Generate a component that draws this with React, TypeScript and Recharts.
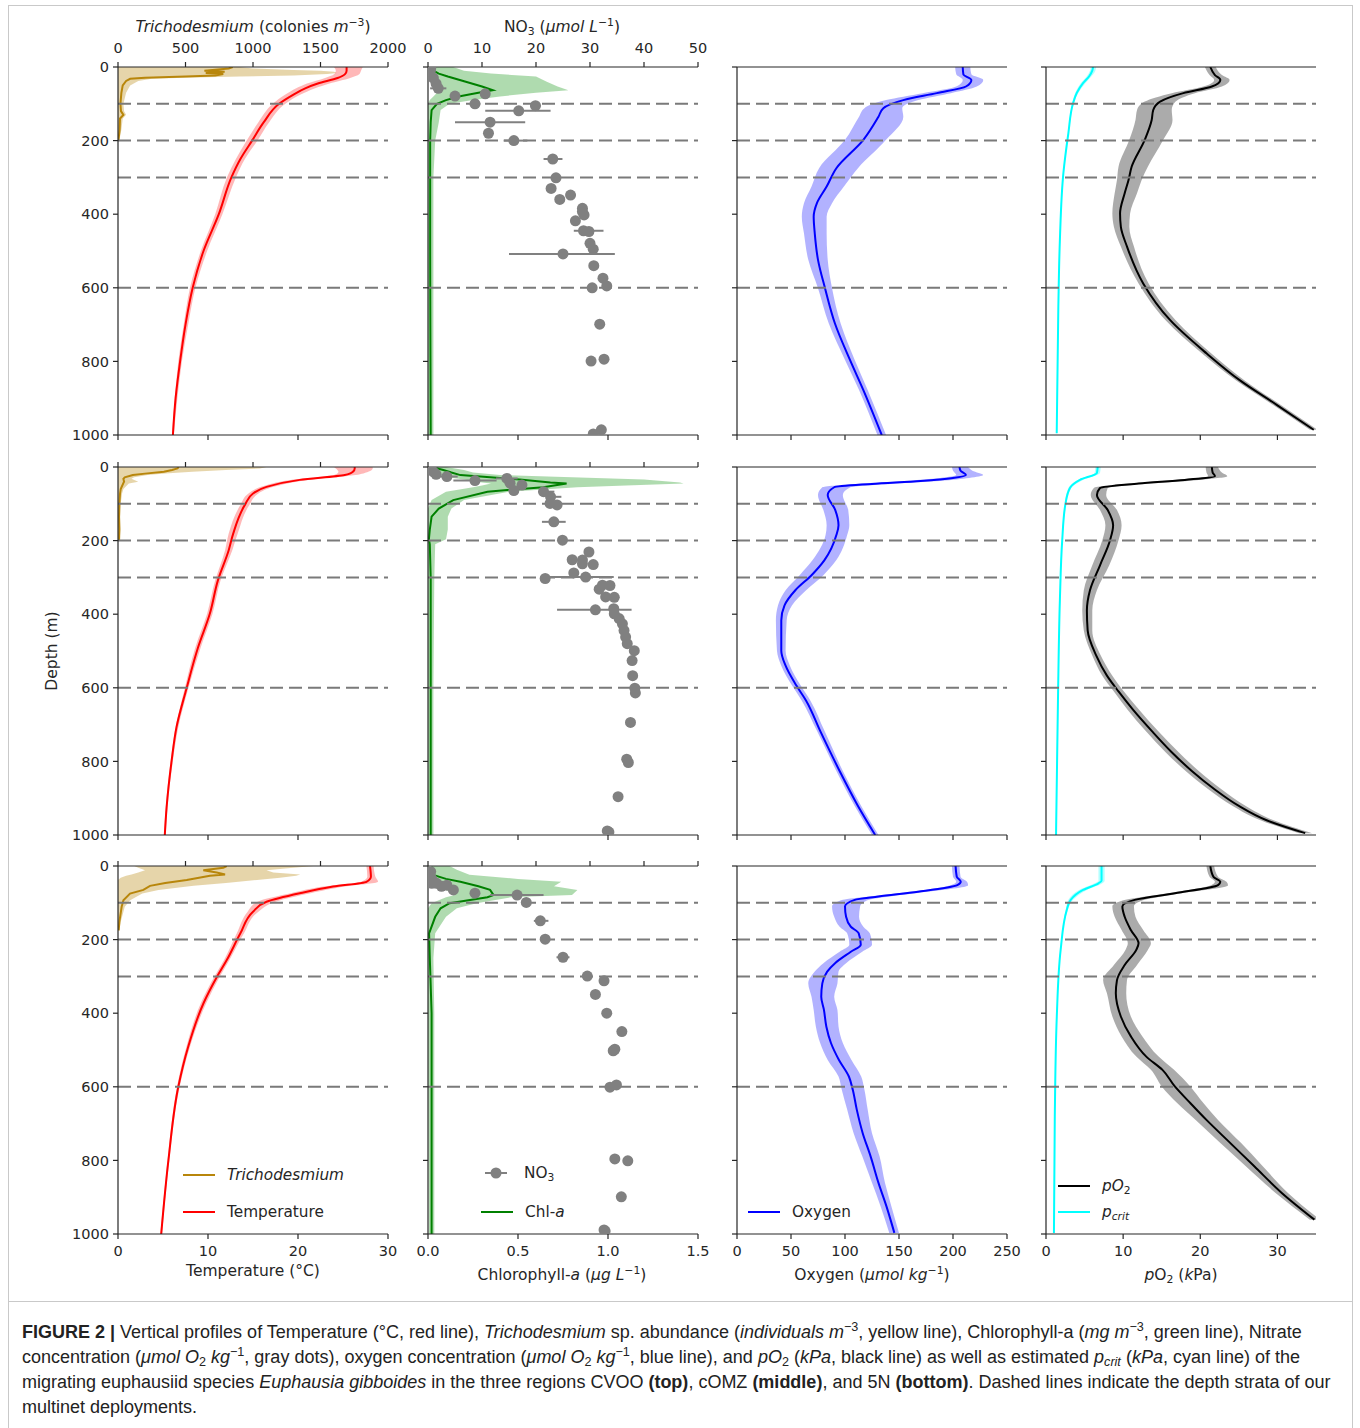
import React from 'react';
import { ComposedChart, Line, Area, Scatter, ErrorBar, XAxis, YAxis, ReferenceLine } from 'recharts';

type Row = [number, number, number, number];

// ---------- tick labels / categories ----------
const DEPTH_TICKS = [0, 200, 400, 600, 800, 1000];
const STRATA = [100, 200, 300, 600];
const TEMP_TICKS = [0, 10, 20, 30];
const TRICHO_TICKS = [0, 500, 1000, 1500, 2000];
const CHL_TICKS = [0, 0.5, 1.0, 1.5];
const NO3_TICKS = [0, 10, 20, 30, 40, 50];
const OXY_TICKS = [0, 50, 100, 150, 200, 250];
const PO2_TICKS = [0, 10, 20, 30];

// ---------- CVOO (top) : [depth, mean, low, high] ----------
const CVOO_TEMP: Row[] = [[0,25.4,24.0,27.2],[10,25.4,24.2,27.0],[20,25.2,24.0,26.8],[30,24.4,23.0,25.8],[45,22.2,21.0,23.5],[58,20.8,19.8,21.9],[75,19.5,18.6,20.3],[100,17.9,17.2,18.6],[150,16.2,15.6,16.8],[200,14.9,14.3,15.5],[250,13.6,13.1,14.1],[300,12.6,12.1,13.1],[400,11.2,10.8,11.6],[500,9.5,9.2,9.9],[600,8.3,8.0,8.6],[700,7.5,7.3,7.8],[800,6.9,6.7,7.1],[900,6.4,6.3,6.6],[1000,6.1,6.0,6.2]];
const CVOO_TRICHO: Row[] = [[0,850,0,900],[4,820,0,1000],[8,700,0,1300],[10,640,0,1500],[13,790,0,1600],[16,650,0,1620],[19,780,0,1550],[23,720,0,1300],[26,500,0,900],[29,200,0,500],[32,90,0,250],[38,60,0,150],[50,35,0,90],[70,25,0,60],[100,18,0,40],[120,22,0,45],[130,40,0,60],[140,15,0,35],[170,12,0,25],[200,3,0,10]];
const CVOO_CHL: Row[] = [[0,0.02,0,0.14],[10,0.03,0,0.2],[18,0.06,0,0.35],[26,0.11,0,0.6],[40,0.21,0.02,0.66],[53,0.30,0.05,0.72],[63,0.36,0.08,0.78],[70,0.28,0.05,0.6],[80,0.17,0.03,0.4],[90,0.10,0.01,0.25],[100,0.05,0,0.12],[117,0.02,0,0.07],[150,0.015,0,0.06],[200,0.012,0,0.04],[300,0.012,0,0.03],[500,0.012,0,0.03],[700,0.013,0,0.03],[1000,0.015,0,0.03]];
const CVOO_NO3: Row[] = [[5,0.5,0,0],[13,0.4,0,0],[30,1.0,0,0],[45,1.5,0,0],[58,1.9,1.5,1.5],[73,10.6,0,0],[79,5.0,0,0],[100,8.7,1,1],[105,19.9,1,1],[119,16.8,6.2,5.9],[150,11.5,6.5,6.5],[180,11.2,0,0],[200,15.9,1.9,2.5],[250,23.1,1.7,1.8],[301,23.7,0,0],[330,22.8,0,0],[348,26.4,0,0],[360,24.4,0,0],[384,28.6,0,0],[393,28.6,0,0],[402,28.9,0,0],[418,27.3,0,0],[445,28.8,1.8,3.7],[447,29.8,0,0],[479,30.0,0,0],[495,30.6,0,0],[508,25.0,10,9.6],[540,30.7,0,0],[574,32.4,0,0],[595,33.1,0,0],[600,30.4,0,0],[699,31.8,0,0],[794,32.6,0,0],[799,30.2,0,0],[986,32.1,0,0],[997,30.6,0,0]];
const CVOO_OXY: Row[] = [[0,209,202,216],[20,209.6,203,217],[35,217,209,228],[53,212,203,222],[71,185,172,198],[90,154,138,168],[112,135.5,118,153],[135,131,113,154],[198,117,100,138],[275,92,76,112],[325,83,69,99],[370,74,62,88],[407,71,60,83],[452,72,62,83],[524,75,66,84],[601,81.5,75,88],[697,90.7,85,96],[796,104.6,100,109],[878,117,113,121],[1000,134,130,138]];
const CVOO_PO2: Row[] = [[0,21.3,20.6,22],[22,21.9,21.2,22.8],[35,22.6,21.8,23.8],[53,21.5,20.4,22.8],[71,17.8,16.3,19.3],[94,14.8,12.8,16.8],[117,13.9,11.8,16.3],[144,13.7,11.6,16.4],[198,12.8,10.8,15.2],[271,11.1,9.4,13.2],[307,10.7,9.2,12.4],[343,10.2,8.9,11.8],[398,9.6,8.6,10.9],[434,9.7,8.8,10.8],[488,10.5,9.7,11.4],[588,12.6,12,13.3],[688,16.1,15.5,16.8],[778,20.8,20.2,21.4],[851,25.1,24.6,25.7],[918,29.9,29.4,30.4],[986,34.7,34.2,35.2]];
const CVOO_PCRIT: Row[] = [[0,6.1,5.8,6.5],[10,6.0,5.7,6.4],[25,5.6,5.3,5.9],[44,4.8,4.5,5.1],[70,4.0,3.8,4.2],[99,3.5,3.4,3.6],[180,2.9,2.85,2.95],[289,2.25,2.2,2.3],[470,1.8,1.75,1.85],[651,1.6,1.55,1.65],[995,1.39,1.35,1.43]];

// ---------- cOMZ (middle) ----------
const COMZ_TEMP: Row[] = [[0,26.3,24,28.3],[4,26.3,24.2,28.3],[13,26.1,24.5,27.8],[22,25.2,24,26.4],[35,20.2,19.2,21.2],[54,16.5,15.9,17.3],[72,15,14.5,15.6],[103,14.1,13.6,14.6],[181,12.8,12.3,13.3],[226,12.3,11.9,12.7],[308,11.1,10.8,11.4],[399,10.2,9.9,10.5],[490,8.9,8.6,9.2],[603,7.6,7.4,7.8],[707,6.5,6.4,6.7],[798,5.96,5.85,6.1],[925,5.4,5.3,5.5],[1000,5.2,5.1,5.3]];
const COMZ_TRICHO: Row[] = [[0,450,0,1100],[4,440,0,1050],[8,400,0,800],[13,340,0,550],[18,200,0,350],[22,110,0,220],[28,50,0,120],[32,40,0,100],[40,45,0,150],[45,38,0,80],[60,20,0,40],[72,15,0,30],[100,10,0,20],[136,8,0,15],[170,10,0,18],[200,8,0,12]];
const COMZ_CHL: Row[] = [[0,0.02,0,0.1],[8,0.085,0,0.2],[15,0.13,0,0.25],[22,0.18,0.02,0.4],[34,0.51,0.2,1.2],[42,0.68,0.3,1.4],[45,0.77,0.35,1.42],[50,0.7,0.3,1.1],[55,0.64,0.25,0.83],[67,0.33,0.1,0.45],[90,0.14,0.02,0.2],[113,0.06,0,0.13],[135,0.02,0,0.11],[170,0.01,0,0.11],[196,0.005,0,0.1],[210,0.01,0,0.04],[300,0.015,0,0.035],[600,0.015,0,0.03],[1000,0.015,0,0.03]];
const COMZ_NO3: Row[] = [[5,0.5,0,0],[13,1.0,0,0],[20,1.5,0,0],[26,3.5,2,2],[31,14.6,2,2],[37,8.7,4,4],[44,15.2,0,0],[49,17.4,0,0],[64,15.9,0,0],[67,21.4,1,2],[81,22.7,0,2],[99,22.6,0,0],[103,23.9,0,0],[149,23.3,2.2,2.2],[199,24.9,0,0],[231,29.8,0,0],[252,26.7,0,0],[253,28.6,0,0],[263,28.6,0,0],[265,30.6,0,0],[288,27.0,0,0],[299,29.2,7.8,5.2],[303,21.7,0,0],[321,32.3,0,0],[322,33.7,0,0],[332,31.7,0,0],[353,32.9,0,0],[354,34.5,0,0],[385,34.4,0,0],[388,31.0,7.1,6.7],[399,34.5,0,0],[412,35.4,0,0],[426,36.0,0,0],[444,36.3,0,0],[462,36.6,0,0],[480,36.9,0,0],[499,38.2,0,0],[526,37.8,0,0],[567,37.9,0,0],[601,38.3,0,0],[614,38.4,0,0],[694,37.5,0,0],[794,36.8,0,0],[803,37.1,0,0],[896,35.2,0,0],[989,33.2,0,0],[992,33.5,0,0]];
const COMZ_OXY: Row[] = [[0,206,199,214],[10,207,200,218],[22,212,203,228],[30,200,188,215],[38,170,155,188],[46,125,110,142],[55,90,79,105],[76,84,75,98],[117,91,80,103],[158,94,83,104],[185,92,82,102],[253,81,70,92],[294,69,58,80],[335,54,45,64],[376,44,38,51],[417,41,36,46],[499,41,37,45],[540,45,41,49],[594,55,51,59],[635,64,60,68],[717,77,74,81],[826,95,92,98],[921,112,109,115],[1000,128,125,131]];
const COMZ_PO2: Row[] = [[0,21.5,20.7,22.3],[15,21.6,20.8,22.8],[25,21.9,21,23.5],[35,18,16.5,19.8],[45,12,10.8,13.5],[57,7,6.2,8],[76,6.6,5.8,7.8],[117,8,7,9.2],[158,8.7,7.7,9.8],[199,8.3,7.3,9.4],[267,7,6,8.2],[335,5.7,4.9,6.6],[390,5.3,4.7,6.0],[444,5.4,4.9,6.0],[512,6.5,6.0,7.1],[567,7.9,7.3,8.6],[610,9.4,8.8,10.1],[660,11.3,10.6,12.1],[717,13.7,12.9,14.5],[775,16.3,15.5,17.2],[826,18.9,18.1,19.8],[875,21.8,21.0,22.7],[921,25.0,24.2,25.9],[960,28.6,27.8,29.5],[995,33.6,32.8,34.5]];
const COMZ_PCRIT: Row[] = [[0,6.7,6.4,7.1],[16,6.6,6.3,7],[35,4.4,4.1,4.8],[57,3.1,2.9,3.3],[103,2.5,2.4,2.6],[200,2.1,2.05,2.15],[362,1.8,1.75,1.85],[635,1.55,1.5,1.6],[1000,1.3,1.25,1.35]];

// ---------- 5N (bottom) ----------
const N5_TEMP: Row[] = [[0,28,27.6,28.4],[29,28.1,27.7,28.6],[43,27.6,27,28.9],[56,23.9,22.8,25.2],[74,20.2,19.2,21.4],[97,16.5,15.5,17.5],[124,15,14.4,15.6],[183,13.6,13.2,14],[255,12.1,11.8,12.4],[301,11,10.7,11.3],[373,9.5,9.2,9.8],[491,7.8,7.6,8],[600,6.7,6.55,6.85],[800,5.6,5.5,5.7],[1000,4.8,4.7,4.9]];
const N5_TRICHO: Row[] = [[0,805,120,1450],[5,780,150,1300],[11.5,632,200,1100],[17.7,731,150,1150],[23,793,100,1350],[26.5,681,60,1320],[32,600,20,1200],[38,509,0,1030],[46,350,0,800],[54,237,0,560],[65,188,0,300],[75,89,0,180],[93,40,0,90],[111,27,0,50],[152,10,0,20],[175,5,0,10]];
const N5_CHL: Row[] = [[0,0.02,0,0.12],[10,0.02,0,0.16],[24,0.025,0,0.23],[35,0.1,0,0.5],[43,0.18,0.02,0.74],[55,0.28,0.05,0.7],[65,0.345,0.1,0.83],[79,0.364,0.15,0.8],[85,0.33,0.1,0.46],[101,0.12,0.02,0.27],[115,0.07,0,0.16],[138,0.04,0,0.1],[183,0.006,0,0.04],[250,0.01,0,0.03],[400,0.02,0,0.035],[1000,0.02,0.005,0.035]];
const N5_NO3: Row[] = [[15,0.5,0,0],[35,0.7,0,0],[47,0.7,0,0],[47,1.6,0,0],[52,3.5,0,0],[55,2.5,0,0],[65,4.7,0,0],[74,8.7,0,0],[79,16.5,5,4.9],[99,18.2,0,0],[149,20.8,1.2,1.5],[199,21.7,0,0],[248,25.0,1.2,1.2],[299,29.5,0,0],[312,32.6,0,0],[349,31.0,0,0],[400,33.1,0,0],[450,35.9,0,0],[498,34.6,0,0],[502,34.3,0,0],[595,34.9,0,0],[601,33.7,0,0],[796,34.6,0,0],[801,37.0,0,0],[899,35.8,0,0],[989,32.6,0,0],[992,32.8,0,0]];
const N5_OXY: Row[] = [[0,202.4,199,206],[29,203.5,200,207],[43,207.2,203,213],[52,204,198,214],[70,167.6,160,176],[83,131,122,141],[92,109,98,122],[110,100,88,114],[138,101,90,113],[165,105.4,95,117],[183,112.7,102,123],[214,114.6,104,125],[233,105.4,95,116],[264,90.8,80,101],[287,83.5,72,94],[319,79,66,93],[355,78,69,90],[391,80.5,71,93],[436,82.7,73,94],[481,87,77,98],[527,94.4,84,106],[572,103.6,94,115],[608,107.2,97,118],[662,110.9,102,121],[726,116.4,108,125],[789,123.7,116,132],[861,131,125,137],[925,138.4,133,143],[997,145.7,141,150]];
const N5_PO2: Row[] = [[0,21.3,20.8,21.8],[29,21.7,21.2,22.3],[43,22.6,21.9,23.4],[52,22.3,21.4,23.6],[74,16.7,15.8,17.6],[92,11.5,10.3,12.8],[110,9.9,8.6,11.4],[138,10.2,8.9,11.6],[174,11,9.8,12.6],[210,12,10.6,13.6],[228,11.7,10.3,13.2],[269,10.2,8.8,11.8],[310,9.2,7.4,10.5],[346,9.05,7.9,10.4],[409,9.7,8.6,11],[463,11,9.8,12.5],[518,13,11.7,14.6],[554,15.1,13.6,16.6],[599,16.7,15,18.7],[644,18.7,17,20.4],[690,20.8,19.4,22.3],[753,23.9,22.6,25.3],[816,27,25.9,28.1],[889,30.6,29.8,31.4],[961,34.8,34.2,35.5]];
const N5_PCRIT: Row[] = [[0,7.2,6.8,7.6],[40,7.2,6.8,7.6],[47,6.8,6.3,7.3],[65,4.8,4.3,5.3],[92,3.2,2.9,3.5],[119,2.7,2.55,2.85],[228,1.9,1.85,1.95],[409,1.4,1.36,1.44],[680,1.14,1.1,1.18],[997,1.03,1.0,1.06]];

const TEMP = [CVOO_TEMP, COMZ_TEMP, N5_TEMP];
const TRICHO = [CVOO_TRICHO, COMZ_TRICHO, N5_TRICHO];
const CHL = [CVOO_CHL, COMZ_CHL, N5_CHL];
const NO3 = [CVOO_NO3, COMZ_NO3, N5_NO3];
const OXY = [CVOO_OXY, COMZ_OXY, N5_OXY];
const PO2 = [CVOO_PO2, COMZ_PO2, N5_PO2];
const PCRIT = [CVOO_PCRIT, COMZ_PCRIT, N5_PCRIT];

const prof = (rows: Row[]) => rows.map(([d, v, lo, hi]) => ({ d, v, band: [lo, hi] }));
const dots = (rows: Row[]) => rows.map(([d, v, em, ep]) => ({ d, v, err: [em, ep] }));

// ---------- layout ----------
const COL_X = [118, 428, 737, 1046];
const ROW_Y = [67, 467, 866];
const PW = 270, PH = 368, YW = 70, TH = 45, BH = 45, MR = 30;
const AX = '#262626';
const FONT = '"DejaVu Sans", Verdana, sans-serif';
const TICK = { fontFamily: FONT, fontSize: 14.5, fill: '#262626' };
const blank = () => '';
const CURVE = 'monotone' as const;

function Frame({ col, row, children }: { col: number; row: number; children: React.ReactNode }) {
  return (
    <div style={{ position: 'absolute', left: COL_X[col] - YW, top: ROW_Y[row] - TH }}>
      <ComposedChart width={YW + PW + MR} height={TH + PH + BH} layout="vertical" margin={{ top: 0, right: MR, bottom: 0, left: 0 }}>
        {children}
      </ComposedChart>
    </div>
  );
}

const depthAxis = (labels: boolean) => (
  <YAxis type="number" dataKey="d" domain={[0, 1000]} ticks={DEPTH_TICKS} interval={0} width={YW}
    allowDataOverflow tickSize={5} tickMargin={4} tick={TICK} tickFormatter={labels ? undefined : blank}
    axisLine={{ stroke: AX, strokeWidth: 1.2 }} tickLine={{ stroke: AX, strokeWidth: 1.2 }} />
);

const xAxis = (id: string | number, orientation: 'top' | 'bottom', domain: number[], ticks: number[] | null, labels: boolean, fmt?: (v: number) => string) => (
  <XAxis xAxisId={id} orientation={orientation} type="number" domain={domain} ticks={ticks ?? []} interval={0}
    height={orientation === 'top' ? TH : BH} allowDataOverflow tickSize={5} tickMargin={orientation === 'top' ? 9 : 7}
    tick={TICK} tickFormatter={labels ? fmt : blank} tickLine={ticks ? { stroke: AX, strokeWidth: 1.2 } : false}
    axisLine={{ stroke: AX, strokeWidth: 1.2 }} />
);

const strata = () => STRATA.map((s) => (
  <ReferenceLine key={s} y={s} stroke="#7a7a7a" strokeWidth={2} strokeDasharray="13 6" />
));

function TempPanel({ row }: { row: number }) {
  const t = prof(TEMP[row]);
  const tr = prof(TRICHO[row]);
  return (
    <Frame col={0} row={row}>
      {xAxis('top', 'top', [0, 2000], TRICHO_TICKS, row === 0)}
      {xAxis(0, 'bottom', [0, 30], TEMP_TICKS, row === 2)}
      {depthAxis(true)}
      <Area data={tr} dataKey="band" xAxisId="top" type="linear" stroke="none" fill="#b8860b" fillOpacity={0.35} isAnimationActive={false} />
      <Line data={tr} dataKey="v" xAxisId="top" type="linear" stroke="#b8860b" strokeWidth={2} dot={false} isAnimationActive={false} />
      <Area data={t} dataKey="band" type={CURVE} stroke="none" fill="#ff0000" fillOpacity={0.28} isAnimationActive={false} />
      <Line data={t} dataKey="v" type={CURVE} stroke="#ff0000" strokeWidth={2} dot={false} isAnimationActive={false} />
      {strata()}
    </Frame>
  );
}

function ChlPanel({ row }: { row: number }) {
  const c = prof(CHL[row]);
  const n = dots(NO3[row]);
  return (
    <Frame col={1} row={row}>
      {xAxis('top', 'top', [0, 50], NO3_TICKS, row === 0)}
      {xAxis(0, 'bottom', [0, 1.5], CHL_TICKS, row === 2, (v: number) => v.toFixed(1))}
      {depthAxis(false)}
      <Area data={c} dataKey="band" type="linear" stroke="none" fill="#2ca02c" fillOpacity={0.38} isAnimationActive={false} />
      <Line data={c} dataKey="v" type="linear" stroke="#008000" strokeWidth={2} dot={false} isAnimationActive={false} />
      {strata()}
      <Scatter data={n} dataKey="v" xAxisId="top" fill="#808080" isAnimationActive={false}
        shape={(p: any) => <circle cx={p.cx} cy={p.cy} r={5.5} fill="#808080" />}>
        <ErrorBar dataKey="err" direction="x" width={0} stroke="#808080" strokeWidth={2} />
      </Scatter>
    </Frame>
  );
}

function OxyPanel({ row }: { row: number }) {
  const o = prof(OXY[row]);
  return (
    <Frame col={2} row={row}>
      {xAxis('top', 'top', [0, 250], null, false)}
      {xAxis(0, 'bottom', [0, 250], OXY_TICKS, row === 2)}
      {depthAxis(false)}
      <Area data={o} dataKey="band" type={CURVE} stroke="none" fill="#0000ff" fillOpacity={0.3} isAnimationActive={false} />
      <Line data={o} dataKey="v" type={CURVE} stroke="#0000ff" strokeWidth={2} dot={false} isAnimationActive={false} />
      {strata()}
    </Frame>
  );
}

function Po2Panel({ row }: { row: number }) {
  const p = prof(PO2[row]);
  const c = prof(PCRIT[row]);
  return (
    <Frame col={3} row={row}>
      {xAxis('top', 'top', [0, 35], null, false)}
      {xAxis(0, 'bottom', [0, 35], PO2_TICKS, row === 2)}
      {depthAxis(false)}
      <Area data={p} dataKey="band" type={CURVE} stroke="none" fill="#000000" fillOpacity={0.33} isAnimationActive={false} />
      <Line data={p} dataKey="v" type={CURVE} stroke="#000000" strokeWidth={2} dot={false} isAnimationActive={false} />
      <Area data={c} dataKey="band" type={CURVE} stroke="none" fill="#00ffff" fillOpacity={0.3} isAnimationActive={false} />
      <Line data={c} dataKey="v" type={CURVE} stroke="#00ffff" strokeWidth={2} dot={false} isAnimationActive={false} />
      {strata()}
    </Frame>
  );
}

function Txt({ x, y, children, anchor = 'center', size = 15.5, rotate = false }: any) {
  const tx = anchor === 'center' ? '-50%' : '0';
  return (
    <div style={{ position: 'absolute', left: x, top: y, transform: rotate ? 'translate(-50%,-50%) rotate(-90deg)' : `translate(${tx},-50%)`,
      fontFamily: FONT, fontSize: size, color: '#262626', whiteSpace: 'nowrap', lineHeight: 1 }}>
      {children}
    </div>
  );
}

function LegendItem({ x, y, color, marker, children }: any) {
  return (
    <div style={{ position: 'absolute', left: x, top: y - 12, height: 24, display: 'flex', alignItems: 'center', fontFamily: FONT, fontSize: 15.3, color: '#262626', whiteSpace: 'nowrap' }}>
      <svg width={32} height={24} style={{ display: 'block' }}>
        <line x1={marker ? 5 : 0} x2={marker ? 27 : 32} y1={12} y2={12} stroke={color} strokeWidth={2} />
        {marker && <circle cx={16} cy={12} r={5.5} fill={color} />}
      </svg>
      <span style={{ marginLeft: 12 }}>{children}</span>
    </div>
  );
}

const sup = (s: string) => <sup style={{ fontSize: '0.7em', verticalAlign: '0.55em', lineHeight: 0 }}>{s}</sup>;
const sub = (s: any) => <sub style={{ fontSize: '0.7em', verticalAlign: '-0.25em', lineHeight: 0 }}>{s}</sub>;

const CAP_FONT = '"Liberation Sans Narrow", "Liberation Sans", Arial, sans-serif';

export default function App() {
  const rows = [0, 1, 2];
  return (
    <div style={{ position: 'absolute', left: 0, top: 0, width: 1360, height: 1428, background: '#fff', overflow: 'hidden' }}>
      <div style={{ position: 'absolute', left: 8, top: 5, width: 1343, height: 1295, border: '1px solid #c9c9c9' }} />
      <div style={{ position: 'absolute', left: 8, top: 1301, width: 1343, height: 140, borderLeft: '1px solid #c9c9c9', borderRight: '1px solid #c9c9c9' }} />
      {rows.map((r) => (
        <React.Fragment key={r}>
          <TempPanel row={r} />
          <ChlPanel row={r} />
          <OxyPanel row={r} />
          <Po2Panel row={r} />
        </React.Fragment>
      ))}

      <Txt x={253} y={28}><i>Trichodesmium</i> (colonies <i>m</i>{sup('−3')})</Txt>
      <Txt x={562} y={28}>NO{sub('3')} (<i>μmol L</i>{sup('−1')})</Txt>
      <Txt x={53} y={651} rotate>Depth (m)</Txt>
      <Txt x={253} y={1272}>Temperature (°C)</Txt>
      <Txt x={562} y={1276}>Chlorophyll-<i>a</i> (<i>μg L</i>{sup('−1')})</Txt>
      <Txt x={872} y={1276}>Oxygen (<i>μmol kg</i>{sup('−1')})</Txt>
      <Txt x={1181} y={1276}><i>p</i>O{sub('2')} (<i>k</i>Pa)</Txt>

      <LegendItem x={183} y={1175} color="#b8860b"><i>Trichodesmium</i></LegendItem>
      <LegendItem x={183} y={1212} color="#ff0000">Temperature</LegendItem>
      <LegendItem x={480} y={1173} color="#808080" marker>NO{sub('3')}</LegendItem>
      <LegendItem x={481} y={1212} color="#008000">Chl-<i>a</i></LegendItem>
      <LegendItem x={748} y={1212} color="#0000ff">Oxygen</LegendItem>
      <LegendItem x={1058} y={1186} color="#000000"><i>p</i><i>O</i>{sub('2')}</LegendItem>
      <LegendItem x={1058} y={1212} color="#00ffff"><i>p</i>{sub(<i>crit</i>)}</LegendItem>

      <div style={{ position: 'absolute', left: 22, top: 1320, fontFamily: CAP_FONT, fontSize: 18, lineHeight: '25px', color: '#222' }}>
        <div style={{ whiteSpace: 'nowrap' }}><b>FIGURE 2 |</b> Vertical profiles of Temperature (°C, red line), <i>Trichodesmium</i> sp. abundance (<i>individuals m</i>{sup('−3')}, yellow line), Chlorophyll-a (<i>mg m</i>{sup('−3')}, green line), Nitrate</div>
        <div style={{ whiteSpace: 'nowrap' }}>concentration (<i>μmol O</i>{sub('2')} <i>kg</i>{sup('−1')}, gray dots), oxygen concentration (<i>μmol O</i>{sub('2')} <i>kg</i>{sup('−1')}, blue line), and <i>pO</i>{sub('2')} (<i>kPa</i>, black line) as well as estimated <i>p</i>{sub(<i>crit</i>)} (<i>kPa</i>, cyan line) of the</div>
        <div style={{ whiteSpace: 'nowrap' }}>migrating euphausiid species <i>Euphausia gibboides</i> in the three regions CVOO <b>(top)</b>, cOMZ <b>(middle)</b>, and 5N <b>(bottom)</b>. Dashed lines indicate the depth strata of our</div>
        <div style={{ whiteSpace: 'nowrap' }}>multinet deployments.</div>
      </div>
    </div>
  );
}
